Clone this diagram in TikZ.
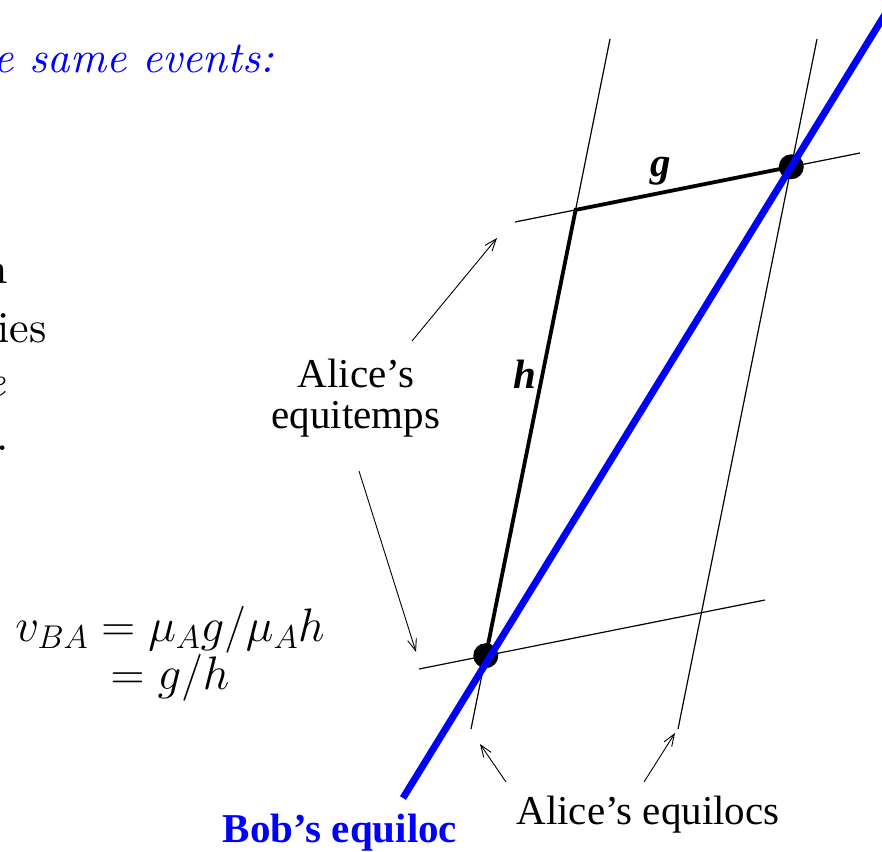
\documentclass[tikz,border=0pt]{standalone}
\usepackage{fix-cm}
\usepackage{fontspec}
\setmainfont{lmroman10-regular.otf}[ItalicFont=lmroman10-italic.otf, BoldFont=lmroman10-bold.otf]
\newfontfamily\figfont{Liberation Serif}
\usepackage{tikz}
\usetikzlibrary{arrows.meta, positioning, calc}
\definecolor{bobblue}{RGB}{0, 0, 255}

\begin{document}
\begin{tikzpicture}[x=1pt, y=-1pt,
    worldline/.style={line width=1.2pt},
    segment/.style={line width=3.8pt},
    bobline/.style={draw=bobblue, line width=7pt},
    event/.style={circle, fill=black, inner sep=0pt, minimum size=25pt},
    pointer/.style={line width=0.9pt, -{Straight Barb[length=12pt, width=9pt]}},
    caption/.style={font=\figfont\fontsize{41}{41}\selectfont, inner sep=0pt, align=center},
    slide/.style={font=\fontsize{44}{53}\selectfont, inner sep=0pt, anchor=base east}
]
    \useasboundingbox (0,0) rectangle (882,851);
    \clip (0,0) rectangle (882,851);

    % slide text cut off at the left edge
    \node[slide, text=bobblue] (events) at (274,72) {\itshape e same events:};
    \node[slide] (frag1) at (8,283) {n};
    \node[slide] (frag2) at (47,342) {ies};
    \node[slide] (frag3) at (6,396) {\itshape e};
    \node[slide] (frag4) at (9,450) {.};

    % Alice's equilocs and equitemps
    \coordinate (leftTop) at (610,39);
    \coordinate (leftBot) at (471,729);
    \coordinate (rightTop) at (817,39);
    \coordinate (rightBot) at (678,729);
    \coordinate (upL) at (515,222);
    \coordinate (upR) at (860,153);
    \coordinate (loL) at (419,669);
    \coordinate (loR) at (765,600);
    \draw[worldline] (leftTop) -- (leftBot);
    \draw[worldline] (rightTop) -- (rightBot);
    \draw[worldline] (upL) -- (upR);
    \draw[worldline] (loL) -- (loR);

    \coordinate (corner) at (intersection of leftTop--leftBot and upL--upR);
    \coordinate (origin) at (intersection of leftTop--leftBot and loL--loR);
    \coordinate (meet) at (intersection of rightTop--rightBot and upL--upR);

    % h and g
    \draw[segment] (origin) -- (corner) -- (meet);
    \node[font=\figfont\bfseries\itshape\fontsize{41}{41}\selectfont, inner sep=0pt] (glabel) at (661,171) {g};
    \node[font=\figfont\bfseries\itshape\fontsize{41}{41}\selectfont, inner sep=0pt] (hlabel) at (525,374) {h};

    \node[event] (evLow) at (origin) {};
    \node[event] (evUp) at (meet) {};

    % Bob's equiloc
    \coordinate (bobEnd) at (403,798);
    \coordinate (bobTop) at ($(bobEnd)!1.3!(meet)$);
    \draw[bobline] (bobEnd) -- (bobTop);

    % labels and pointers
    \node[caption] (equitemps) at (356,398) {Alice’s\\equitemps};
    \coordinate (upTail) at (412,341);
    \coordinate (upTip) at (497,238);
    \coordinate (lowTail) at (359,471);
    \coordinate (lowTip) at (416,652);
    \draw[pointer] (upTail) -- (upTip);
    \draw[pointer] (lowTail) -- (lowTip);

    \node[caption, anchor=base] (equilocs) at (648,824) {Alice’s equilocs};
    \coordinate (locTailL) at (506,782);
    \coordinate (locTipL) at (480,744);
    \coordinate (locTailR) at (644,782);
    \coordinate (locTipR) at (675,733);
    \draw[pointer] (locTailL) -- (locTipL);
    \draw[pointer] (locTailR) -- (locTipR);

    \node[caption, anchor=base, text=bobblue, font=\figfont\bfseries\fontsize{41}{41}\selectfont] (bob) at (340,842) {Bob’s equiloc};

    % velocity
    \node[font=\fontsize{47}{48}\selectfont, align=center, inner sep=0pt] (vba) at (170,654)
        {$v_{BA}=\mu_A g/\mu_A h$\\$=g/h$};
\end{tikzpicture}
\end{document}
